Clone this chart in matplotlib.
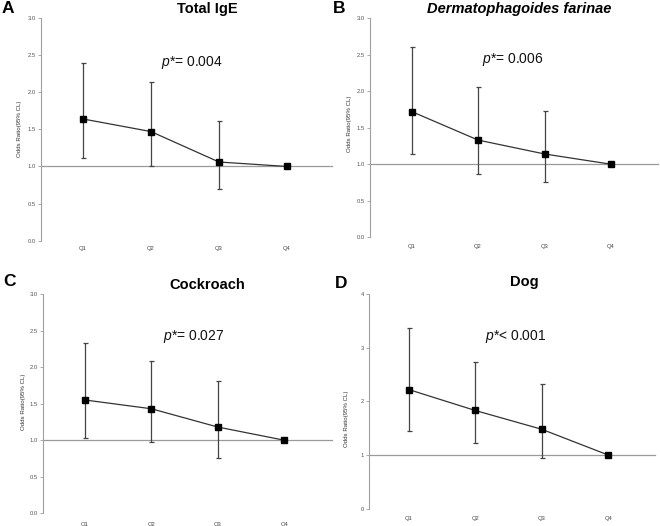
import matplotlib
matplotlib.use("Agg")
import matplotlib.pyplot as plt

plt.rcParams['mathtext.fontset'] = 'custom'
plt.rcParams['mathtext.it'] = 'Liberation Sans:italic'
plt.rcParams['mathtext.rm'] = 'Liberation Sans'

# ---------------- data ----------------
quartiles = ["Q1", "Q2", "Q3", "Q4"]

or_total_ige = [1.64, 1.47, 1.06, 1.00]
lo_total_ige = [1.12, 1.01, 0.70, 1.00]
hi_total_ige = [2.40, 2.14, 1.61, 1.00]

or_df = [1.72, 1.33, 1.14, 1.00]
lo_df = [1.14, 0.86, 0.75, 1.00]
hi_df = [2.61, 2.06, 1.73, 1.00]

or_cockroach = [1.55, 1.43, 1.18, 1.00]
lo_cockroach = [1.03, 0.98, 0.76, 1.00]
hi_cockroach = [2.33, 2.09, 1.81, 1.00]

or_dog = [2.22, 1.83, 1.48, 1.00]
lo_dog = [1.45, 1.22, 0.94, 1.00]
hi_dog = [3.37, 2.73, 2.32, 1.00]

titles = ["Total IgE", "Dermatophagoides farinae", "Cockroach", "Dog"]
letters = ["A", "B", "C", "D"]
p_texts = [r"$\it{p}$*= 0.004", r"$\it{p}$*= 0.006", r"$\it{p}$*= 0.027", r"$\it{p}$*< 0.001"]
yticks_ab_c = [0.0, 0.5, 1.0, 1.5, 2.0, 2.5, 3.0]
yticks_d = [0, 1, 2, 3, 4]
ylabel = "Odds Ratio(95% CL)"

# ---------------- layout (pixels) ----------------
W, H = 660, 526
fig = plt.figure(figsize=(W / 100, H / 100), dpi=100)

def fx(px):
    return px / W

def fy(py):
    return 1 - py / H

panels = [
    dict(ax_x=41, q1=83, dq=68, right=332, y0=240.7, ytop_px=18, ytop=3.0, pad=4.0,
         yl=(20, 128.5), title=(207, 13.3), letter=(2, 13.3), ptxt=(161, 66.3)),
    dict(ax_x=370, q1=411.7, dq=66.4, right=658, y0=237.3, ytop_px=18, ytop=3.0, pad=4.8,
         yl=(350, 124), title=(519.5, 13.3), letter=(333, 13.3), ptxt=(482, 62.7)),
    dict(ax_x=43, q1=85, dq=66.4, right=332, y0=513.3, ytop_px=294, ytop=3.0, pad=6.0,
         yl=(23, 402), title=(207, 289), letter=(3, 286.3), ptxt=(163, 340)),
    dict(ax_x=369, q1=408.7, dq=66.5, right=655, y0=508.7, ytop_px=294, ytop=4.0, pad=5.4,
         yl=(346, 419), title=(524, 285.7), letter=(335, 288), ptxt=(485, 340)),
]

series = [
    (or_total_ige, lo_total_ige, hi_total_ige, yticks_ab_c, "{:.1f}"),
    (or_df, lo_df, hi_df, yticks_ab_c, "{:.1f}"),
    (or_cockroach, lo_cockroach, hi_cockroach, yticks_ab_c, "{:.1f}"),
    (or_dog, lo_dog, hi_dog, yticks_d, "{:d}"),
]

x = [1, 2, 3, 4]
for i, (pl, (vals, lo, hi, yt, fmt)) in enumerate(zip(panels, series)):
    left = fx(pl["ax_x"])
    width = (pl["right"] - pl["ax_x"]) / W
    bottom = fy(pl["y0"])
    height = (pl["y0"] - pl["ytop_px"]) / H
    ax = fig.add_axes([left, bottom, width, height])
    ax.set_xlim(1 - (pl["q1"] - pl["ax_x"]) / pl["dq"], 1 + (pl["right"] - pl["q1"]) / pl["dq"])
    ax.set_ylim(0, pl["ytop"])

    ax.axhline(1.0, color="#9a9a9a", lw=0.9, zorder=1, clip_on=False)
    yerr = [[v - l for v, l in zip(vals, lo)], [h - v for v, h in zip(vals, hi)]]
    ax.errorbar(x[:3], vals[:3], yerr=[yerr[0][:3], yerr[1][:3]], fmt="none",
                ecolor="#444444", elinewidth=0.9, capsize=1.8, capthick=0.9, zorder=2, clip_on=False)
    ax.plot(x, vals, color="#333333", lw=0.9, marker="s", markersize=3.8,
            markerfacecolor="black", markeredgecolor="black", zorder=3, clip_on=False)

    for s in ["top", "right", "bottom"]:
        ax.spines[s].set_visible(False)
    ax.spines["left"].set_color("#a0a0a0")
    ax.spines["left"].set_linewidth(0.8)
    ax.spines["left"].set_bounds(0, pl["ytop"])

    ax.set_yticks(yt)
    ax.set_yticklabels([fmt.format(v) for v in yt])
    ax.tick_params(axis="y", length=2.5, width=0.6, color="#a0a0a0", pad=1.0,
                   labelsize=4.2, labelcolor="#555555")
    ax.set_xticks(x)
    ax.set_xticklabels(quartiles)
    ax.tick_params(axis="x", length=0, pad=pl["pad"], labelsize=4.2, labelcolor="#444444")
    for lab in ax.get_xticklabels() + ax.get_yticklabels():
        lab.set_fontfamily("Liberation Sans")
    ax.patch.set_alpha(0)

    fig.text(fx(pl["yl"][0]), fy(pl["yl"][1]), ylabel, rotation=90, ha="center", va="center",
             fontsize=4.4, color="#333333", family="Liberation Sans")
    fig.text(fx(pl["title"][0]), fy(pl["title"][1]), titles[i], ha="center", va="baseline",
             fontsize=10.5, fontweight="bold", family="Liberation Sans",
             style="italic" if i == 1 else "normal")
    fig.text(fx(pl["letter"][0]), fy(pl["letter"][1]), letters[i], ha="left", va="baseline",
             fontsize=12.5, fontweight="bold", family="Liberation Sans")
    fig.text(fx(pl["ptxt"][0]), fy(pl["ptxt"][1]), p_texts[i], ha="left", va="baseline",
             fontsize=10, family="Liberation Sans", color="#111111")

fig.savefig("out.png", dpi=100)
